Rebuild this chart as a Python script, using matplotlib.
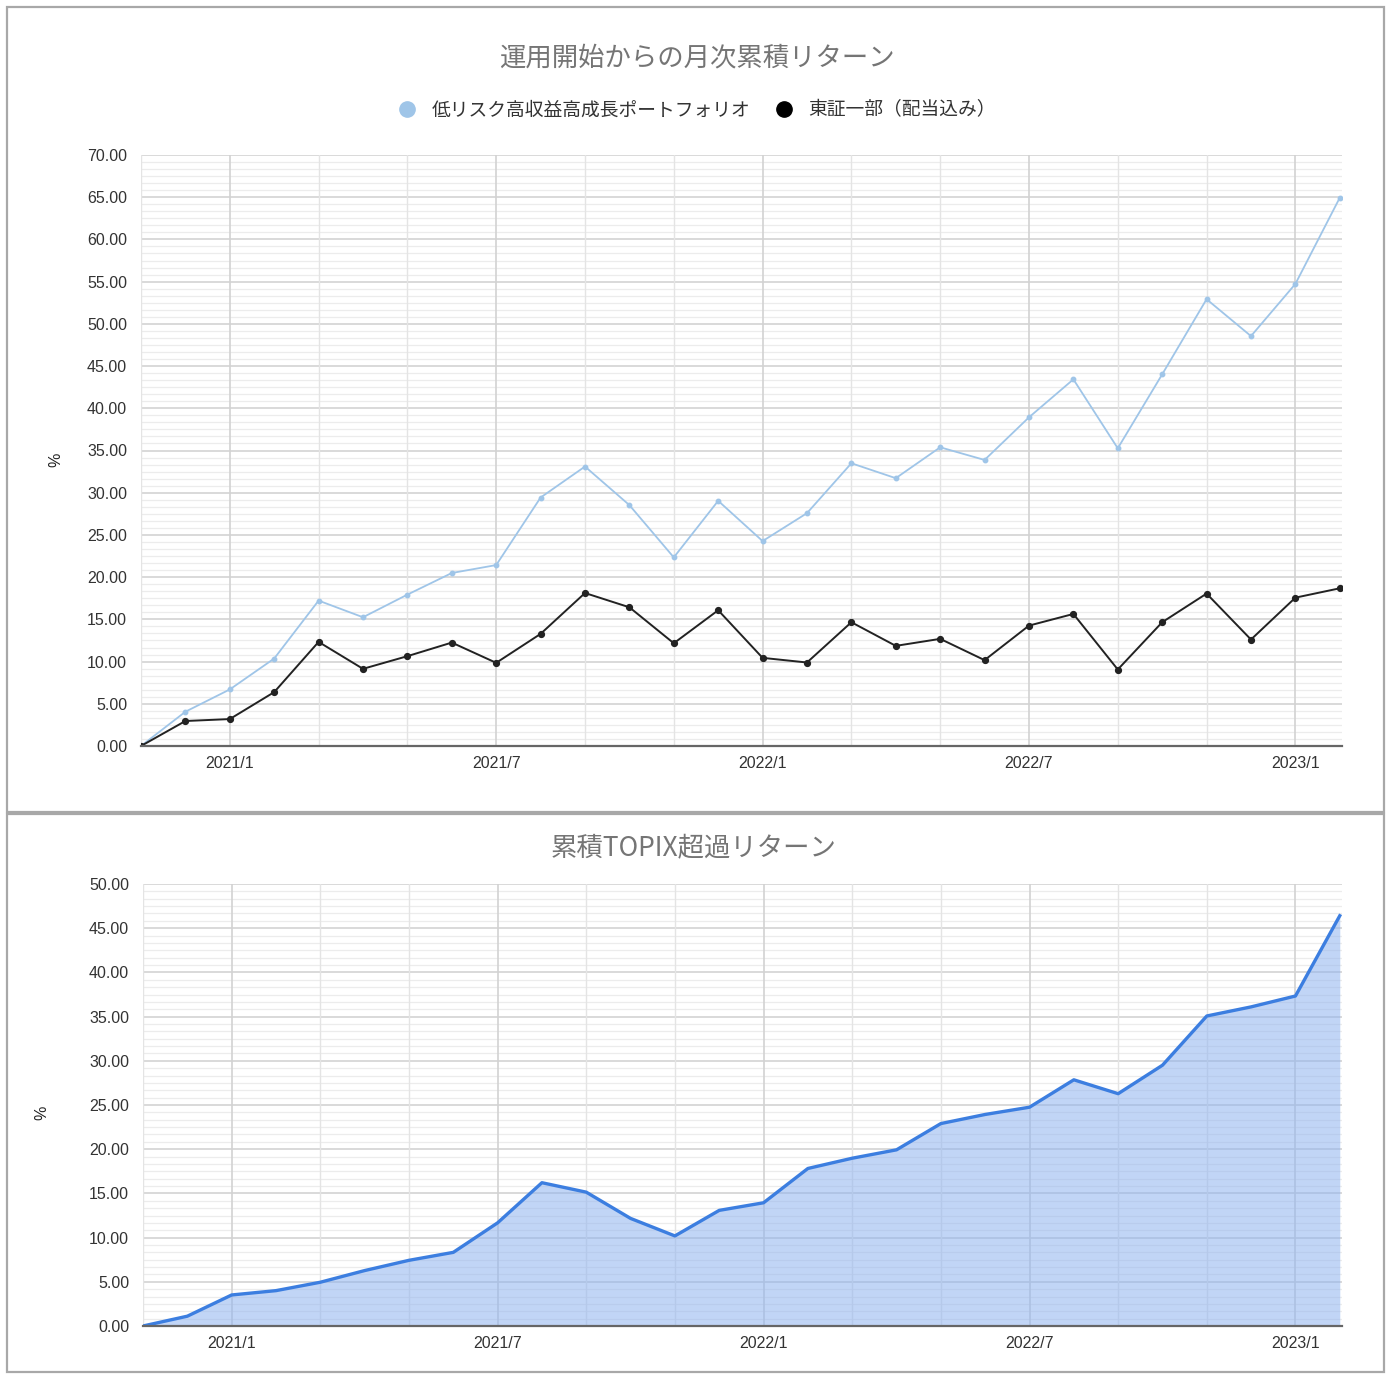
import matplotlib
matplotlib.use("Agg")
import matplotlib.pyplot as plt
from matplotlib.lines import Line2D
from matplotlib.patches import Rectangle
import numpy as np

plt.rcParams['font.family'] = ['Liberation Sans', 'Noto Sans CJK JP', 'DejaVu Sans']

months = ['2020/11', '2020/12',
          '2021/1', '2021/2', '2021/3', '2021/4', '2021/5', '2021/6',
          '2021/7', '2021/8', '2021/9', '2021/10', '2021/11', '2021/12',
          '2022/1', '2022/2', '2022/3', '2022/4', '2022/5', '2022/6',
          '2022/7', '2022/8', '2022/9', '2022/10', '2022/11', '2022/12',
          '2023/1', '2023/2']

portfolio = [0.00, 4.06, 6.70, 10.36, 17.22, 15.25, 17.93, 20.49,
             21.43, 29.43, 33.10, 28.53, 22.34, 29.04,
             24.27, 27.58, 33.49, 31.72, 35.38, 33.88,
             38.93, 43.43, 35.26, 44.02, 52.92, 48.55,
             54.73, 64.94]

topix = [0.00, 2.96, 3.19, 6.38, 12.33, 9.14, 10.64, 12.25,
         9.85, 13.28, 18.12, 16.43, 12.17, 16.08,
         10.44, 9.89, 14.66, 11.86, 12.69, 10.17,
         14.26, 15.64, 9.06, 14.66, 18.05, 12.61,
         17.57, 18.68]

excess = [0.00, 1.11, 3.51, 4.00, 4.95, 6.27, 7.43, 8.33,
          11.67, 16.21, 15.14, 12.17, 10.19, 13.08,
          13.94, 17.82, 18.98, 19.93, 22.90, 23.93,
          24.75, 27.85, 26.28, 29.50, 35.07, 36.10,
          37.33, 46.41]

series_names = ['低リスク高収益高成長ポートフォリオ', '東証一部（配当込み）']
title_top = '運用開始からの月次累積リターン'
title_bottom = '累積TOPIX超過リターン'

W, H = 1392, 1380
fig = plt.figure(figsize=(W / 100, H / 100), dpi=100)
fig.patch.set_facecolor('white')

def fx(px):
    return px / W

def fy(py):
    return 1 - py / H

# panel frames
frame_col = '#a8a8a8'
fig.patches.append(Rectangle((fx(7), fy(812)), fx(1384) - fx(7), fy(7) - fy(812),
                             transform=fig.transFigure, fill=False, edgecolor=frame_col, lw=1.6))
fig.patches.append(Rectangle((fx(7), fy(1372)), fx(1384) - fx(7), fy(814) - fy(1372),
                             transform=fig.transFigure, fill=False, edgecolor=frame_col, lw=1.6))

x = np.arange(len(months))
label_idx = [i for i, m in enumerate(months) if m.endswith('/1') or m.endswith('/7')]
minor_idx = [i for i in range(0, len(months), 2) if i not in label_idx]


def style_axes(ax, ymax, step):
    ax.set_xlim(0, len(months) - 1 + 0.05)
    ax.set_ylim(0, ymax)
    ax.set_facecolor('white')
    for s in ['top', 'right', 'left']:
        ax.spines[s].set_visible(False)
    ax.spines['bottom'].set_color('#666666')
    ax.spines['bottom'].set_linewidth(1.6)
    ax.spines['bottom'].set_zorder(5)
    yt = np.arange(0, ymax + 0.001, step)
    ax.set_yticks(yt)
    ax.set_yticklabels([f'{v:.2f}' for v in yt])
    minor_y = [a + step * k / 6 for a in yt[:-1] for k in range(1, 6)]
    for v in minor_y:
        ax.axhline(v, color='#ececec', lw=0.9, zorder=0)
    for v in yt[1:]:
        ax.axhline(v, color='#d0d0d0', lw=1.1, zorder=0)
    for i in minor_idx:
        ax.axvline(i, color='#e4e4e4', lw=1.0, zorder=0)
    for i in label_idx:
        ax.axvline(i, color='#d2d2d2', lw=1.2, zorder=0)
    ax.set_xticks(label_idx)
    ax.set_xticklabels([months[i] for i in label_idx])
    ax.tick_params(axis='both', length=0, labelsize=11.5, colors='#333333')
    ax.tick_params(axis='y', pad=10)
    ax.tick_params(axis='x', pad=7)


# ---------- top chart ----------
ax1 = fig.add_axes([fx(141), fy(746), fx(1342) - fx(141), fy(155) - fy(746)])
style_axes(ax1, 70, 5)
ax1.plot(x, portfolio, color='#9fc5e8', lw=1.3, marker='o', ms=3.2, zorder=3)
ax1.plot(x, topix, color='#222222', lw=1.4, marker='o', ms=4.2, zorder=4)
fig.text(fx(697), fy(58), title_top, ha='center', va='center', fontsize=19,
         color='#757575', family=['Noto Sans CJK JP'])
fig.text(fx(56), fy(460), '%', ha='center', va='center', rotation=90, fontsize=11.5, color='#222222')

handles = [Line2D([], [], ls='none', marker='o', ms=11, color='#9fc5e8'),
           Line2D([], [], ls='none', marker='o', ms=11, color='#000000')]
leg = fig.legend(handles, series_names, loc='center', bbox_to_anchor=(fx(692), fy(110)),
                 ncol=2, frameon=False, handletextpad=0.3, columnspacing=0.8,
                 prop={'family': ['Noto Sans CJK JP'], 'size': 13.5})
for t in leg.get_texts():
    t.set_color('#333333')

# ---------- bottom chart ----------
ax2 = fig.add_axes([fx(143), fy(1326), fx(1342) - fx(143), fy(884) - fy(1326)])
style_axes(ax2, 50, 5)
ax2.fill_between(x, excess, 0, color='#8fb3ef', alpha=0.55, lw=0, zorder=2)
ax2.plot(x, excess, color='#3c7ee0', lw=2.4, zorder=4)
fig.text(fx(694), fy(848), title_bottom, ha='center', va='center', fontsize=19,
         color='#757575', family=['Noto Sans CJK JP'])
fig.text(fx(42), fy(1113), '%', ha='center', va='center', rotation=90, fontsize=11.5, color='#222222')

fig.savefig('out.png', dpi=100, facecolor='white')
